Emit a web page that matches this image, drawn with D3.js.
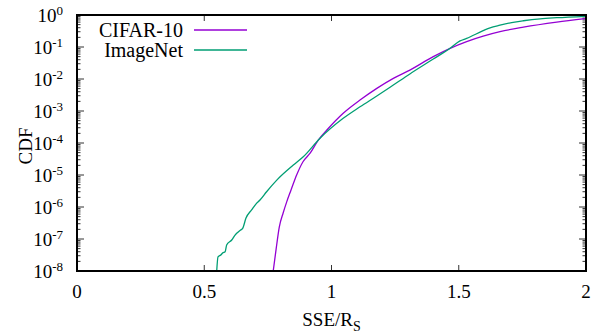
<!DOCTYPE html>
<html>
<head>
<meta charset="utf-8">
<script src="https://cdn.jsdelivr.net/npm/d3@7"></script>
<style>
  body { margin: 0; background: #fff; }
  text { font-family: "Liberation Serif", "Times New Roman", serif; fill: #000; }
</style>
</head>
<body>
<svg id="chart"></svg>
<script>
// values (x = SSE/R_S, y = CDF)
const cifarX = [0.771, 0.782, 0.795, 0.810, 0.824, 0.841, 0.863, 0.888, 0.916, 0.948, 0.981,
  1.046, 1.112, 1.178, 1.243, 1.308, 1.400, 1.466, 1.531, 1.596, 1.662, 1.754, 1.885, 1.996];
const cifarY = [1e-8, 4.6e-8, 2.4e-7, 6.5e-7, 1.45e-6, 3.4e-6, 1.0e-5, 2.6e-5, 4.8e-5, 1.23e-4, 2.5e-4,
  8.5e-4, 2.2e-3, 5.1e-3, 1.05e-2, 1.9e-2, 5.0e-2, 9.1e-2, 0.148, 0.219, 0.302, 0.417, 0.60, 0.77];

const imagenetX = [0.549, 0.554, 0.565, 0.573, 0.582, 0.588, 0.608, 0.621, 0.643, 0.651, 0.664,
  0.686, 0.706, 0.719, 0.745, 0.785, 0.850, 0.889, 0.955, 1.046, 1.112, 1.178, 1.243, 1.308,
  1.400, 1.466, 1.505, 1.531, 1.596, 1.623, 1.662, 1.720, 1.754, 1.820, 1.885, 1.996];
const imagenetY = [1e-8, 2.75e-8, 3.16e-8, 3.7e-8, 4.0e-8, 6.5e-8, 9.3e-8, 1.33e-7, 1.9e-7, 2.14e-7, 4.5e-7,
  8.1e-7, 1.32e-6, 1.66e-6, 3.0e-6, 6.9e-6, 2.04e-5, 3.7e-5, 1.41e-4, 5.9e-4, 1.35e-3, 2.95e-3, 6.5e-3, 1.44e-2,
  4.2e-2, 9.1e-2, 0.155, 0.186, 0.324, 0.398, 0.479, 0.603, 0.661, 0.759, 0.822, 0.912];

const seriesNames = ['CIFAR-10', 'ImageNet'];
const seriesColors = ['#9400d3', '#009e73'];

const xTicks = [0, 0.5, 1, 1.5, 2];
const yExponents = [0, -1, -2, -3, -4, -5, -6, -7, -8];

const W = 596, H = 333;
const margin = { top: 15, right: 10, bottom: 62, left: 77 };
const width = W - margin.left - margin.right;
const height = H - margin.top - margin.bottom;

const svg = d3.select('#chart').attr('width', W).attr('height', H);
const g = svg.append('g').attr('transform', `translate(${margin.left},${margin.top})`);

const x = d3.scaleLinear().domain([0, 2]).range([0, width]);
const y = d3.scaleLog().domain([1e-8, 1]).range([height, 0]);

// minor log ticks
const minor = [];
for (let e = -8; e < 0; e++) {
  for (let m = 2; m <= 9; m++) minor.push(m * Math.pow(10, e));
}

const tickColor = '#333';
// y major/minor ticks on both sides
g.selectAll('.ymaj').data(yExponents).enter().append('path')
  .attr('d', d => `M0,${y(Math.pow(10, d))}h7M${width},${y(Math.pow(10, d))}h-7`)
  .attr('stroke', tickColor).attr('stroke-width', 1);
g.selectAll('.ymin').data(minor).enter().append('path')
  .attr('d', d => `M0,${y(d)}h3.5M${width},${y(d)}h-3.5`)
  .attr('stroke', tickColor).attr('stroke-width', 1);
// x ticks top and bottom
g.selectAll('.xmaj').data(xTicks).enter().append('path')
  .attr('d', d => `M${x(d)},${height}v-6M${x(d)},0v6`)
  .attr('stroke', tickColor).attr('stroke-width', 1);

// y tick labels 10^n
const yl = g.selectAll('.ylab').data(yExponents).enter().append('text')
  .attr('x', -14).attr('y', d => y(Math.pow(10, d)) + 7)
  .attr('text-anchor', 'end').attr('font-size', 19);
yl.append('tspan').text('10');
yl.append('tspan').attr('dy', -7).attr('font-size', 13).text(d => d === 0 ? '0' : '-' + (-d));

// x tick labels
g.selectAll('.xlab').data(xTicks).enter().append('text')
  .attr('x', d => x(d)).attr('y', height + 27)
  .attr('text-anchor', 'middle').attr('font-size', 19)
  .text(d => d3.format('~g')(d));

// axis titles
const xt = g.append('text').attr('x', x(1)).attr('y', height + 55)
  .attr('text-anchor', 'middle').attr('font-size', 19);
xt.append('tspan').text('SSE/R');
xt.append('tspan').attr('dy', 5).attr('font-size', 14).text('S');

g.append('text').attr('transform', `translate(${32 - margin.left},${height / 2 + 3}) rotate(-90)`)
  .attr('text-anchor', 'middle').attr('font-size', 19).text('CDF');

// curves
g.append('clipPath').attr('id', 'clip').append('rect').attr('width', width).attr('height', height);
const line = d3.line().x(d => x(d[0])).y(d => y(d[1])).curve(d3.curveMonotoneX);
const series = [
  d3.zip(cifarX, cifarY),
  d3.zip(imagenetX, imagenetY)
];
series.forEach((pts, i) => {
  g.append('path').datum(pts)
    .attr('clip-path', 'url(#clip)')
    .attr('fill', 'none').attr('stroke', seriesColors[i]).attr('stroke-width', 1.3)
    .attr('d', line);
});

// frame
g.append('rect').attr('width', width).attr('height', height)
  .attr('fill', 'none').attr('stroke', '#000').attr('stroke-width', 2);

// legend
seriesNames.forEach((name, i) => {
  const ly = 15 + i * 20 - margin.top;
  g.append('text').attr('x', 183 - margin.left).attr('y', ly + 22)
    .attr('text-anchor', 'end').attr('font-size', 20).text(name);
  g.append('line').attr('x1', 194 - margin.left).attr('x2', 247 - margin.left)
    .attr('y1', ly + 15).attr('y2', ly + 15)
    .attr('stroke', seriesColors[i]).attr('stroke-width', 1.3);
});
</script>
</body>
</html>
